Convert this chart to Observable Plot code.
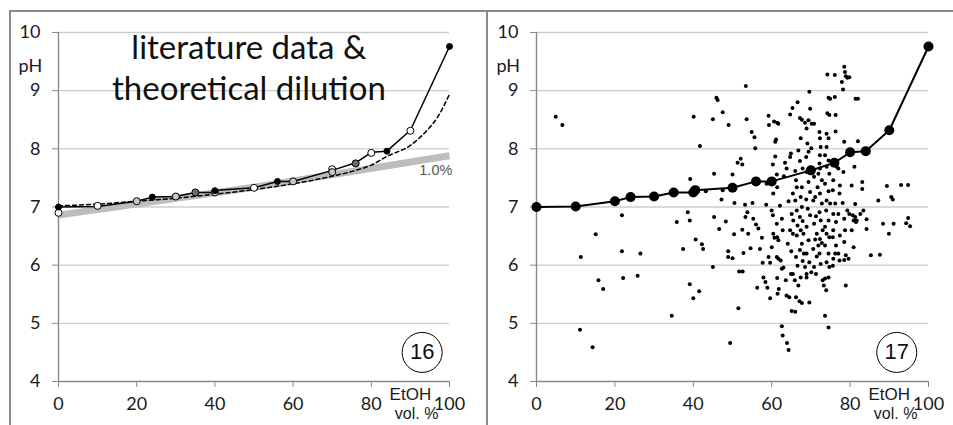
<!DOCTYPE html>
<html><head><meta charset="utf-8">
<script src="https://cdn.jsdelivr.net/npm/d3@7"></script>
<script src="https://cdn.jsdelivr.net/npm/@observablehq/plot@0.6"></script>
<style>
body{margin:0;background:#fff;}
#wrap{position:relative;width:953px;height:425px;overflow:hidden;background:#fff;}
.panel{position:absolute;top:0;}
.bd{position:absolute;background:#8c8c8c;}
</style></head><body>
<div id="wrap">
  <div class="panel" id="p16" style="left:0px"></div>
  <div class="panel" id="p17" style="left:478px"></div>
  <div class="bd" style="left:9px;top:10px;width:944px;height:1.5px"></div>
  <div class="bd" style="left:9px;top:10px;width:1.5px;height:415px"></div>
  <div class="bd" style="left:486px;top:10px;width:1.5px;height:415px"></div>
</div>
<script>
// ---- data ----
const ticksX = [0, 20, 40, 60, 80, 100];
const ticksY = [4, 5, 6, 7, 8, 9, 10];
const gridY = [5, 6, 7, 8, 9, 10];

// averaged literature curve (solid line)
const lineEtOH = [0, 10, 20, 24, 30, 35, 40, 40.5, 50, 56, 60, 70, 76, 80, 84, 90, 100];
const linePH   = [7.0, 7.01, 7.1, 7.17, 7.18, 7.25, 7.25, 7.29, 7.33, 7.44, 7.44, 7.63, 7.76, 7.94, 7.96, 8.32, 9.76];

// literature data points, panel 16
const litEtOH   = [0, 0, 10, 20, 24, 30, 35, 40, 40, 50, 56, 60, 70, 70, 76, 80, 84, 90, 100];
const litPH     = [7.0, 6.9, 7.02, 7.1, 7.17, 7.18, 7.25, 7.28, 7.25, 7.33, 7.44, 7.44, 7.65, 7.6, 7.75, 7.93, 7.96, 8.31, 9.76];
const litSource = ["A", "B", "B", "C", "A", "C", "D", "A", "C", "B", "A", "C", "B", "C", "D", "B", "A", "B", "A"];
const sourceNames = ["A", "B", "C", "D"];

// theoretical dilution (dashed)
const theoryEtOH = [0, 10, 20, 30, 40, 50, 60, 70, 76, 80, 84, 90, 94, 97, 100];
const theoryPH   = [7.02, 7.05, 7.1, 7.15, 7.22, 7.3, 7.4, 7.53, 7.63, 7.72, 7.87, 8.06, 8.3, 8.55, 8.94];

// 1.0% dilution band
const bandEtOH = [0, 50, 100];
const bandPH   = [6.86, 7.34, 7.88];

// scatter of individual measurements, panel 17: [EtOH vol %, pH]
const scatterPoints = [
[4.9,8.55],[6.6,8.41],[11.3,6.14],[11.1,4.89],[14.3,4.59],[15.1,6.53],[15.8,5.74],[17.0,5.59],[21.8,6.86],[21.8,6.24],
[22.1,5.78],[25.8,5.82],[26.5,6.20],[34.5,5.13],[35.8,6.74],[37.4,6.28],[38.6,6.91],[39.1,6.77],[39.1,5.67],[40.0,5.43],
[41.5,5.55],[39.2,7.48],[40.1,8.55],[41.7,8.05],[40.6,6.44],[42.2,6.36],[42.5,6.28],[43.2,7.27],[45.0,5.97],[45.0,8.51],
[45.3,7.57],[45.3,6.83],[45.9,8.88],[46.2,8.84],[47.5,8.63],[46.6,6.62],[47.2,7.13],[47.5,7.29],[48.3,6.75],[49.0,8.41],
[48.9,6.24],[48.9,6.14],[49.4,4.66],[50.0,7.56],[50.0,6.12],[50.4,6.53],[50.5,7.07],[51.3,7.76],[52.1,7.83],[52.5,7.73],
[51.7,5.89],[52.6,5.89],[51.5,5.26],[52.5,6.61],[52.8,6.21],[53.4,9.08],[53.6,8.51],[53.2,7.04],[53.3,6.83],[53.8,6.91],
[54.0,6.54],[54.6,6.29],[54.9,8.29],[55.6,8.20],[55.8,8.01],[55.1,7.07],[55.3,6.80],[56.0,6.70],[56.6,6.63],[56.3,5.61],
[57.0,6.28],[57.5,6.47],[57.7,6.04],[57.9,5.79],[58.4,5.71],[58.6,7.04],[58.9,5.61],[59.6,5.43],[58.7,7.40],[59.2,8.57],
[59.3,8.41],[60.0,6.31],[59.6,6.04],[59.2,6.14],[60.6,8.47],[60.4,7.23],[60.0,6.94],[60.3,6.86],[60.4,6.54],[60.7,6.47],
[60.9,8.12],[61.1,8.16],[61.4,8.45],[61.7,8.43],[60.3,7.73],[60.9,7.87],[61.3,7.56],[61.4,7.34],[61.3,6.71],[61.4,6.48],
[61.7,6.43],[61.3,6.14],[61.7,6.11],[62.3,6.08],[61.4,5.78],[61.8,5.59],[61.5,5.51],[62.6,4.95],[62.8,4.79],[62.1,7.02],
[62.6,6.80],[62.8,6.60],[62.6,5.94],[63.0,5.96],[63.1,7.53],[63.4,7.76],[63.8,7.66],[63.6,5.74],[63.8,5.48],[64.1,6.37],
[64.3,7.10],[63.9,4.66],[64.3,4.54],[64.5,5.45],[64.7,8.59],[64.9,7.92],[64.7,7.86],[65.3,8.70],[65.4,7.23],[65.1,6.88],
[65.5,6.77],[64.7,6.60],[65.4,6.54],[65.0,6.24],[64.9,5.85],[65.4,5.85],[65.1,5.21],[66.0,5.20],[66.2,5.45],[65.9,5.74],
[66.6,8.80],[66.0,7.62],[66.2,7.46],[66.4,7.34],[66.0,7.11],[66.4,6.94],[66.6,6.68],[66.4,6.51],[66.2,6.14],[66.6,5.99],
[66.8,5.65],[67.1,5.38],[67.7,5.35],[67.2,8.53],[67.7,8.50],[67.4,8.18],[66.8,7.97],[67.2,7.79],[67.9,7.66],[67.7,7.34],
[67.4,7.17],[67.7,7.00],[67.2,6.83],[67.9,6.76],[67.4,6.60],[68.1,6.54],[67.7,6.37],[67.2,6.26],[68.2,6.20],[67.9,6.07],
[68.5,5.97],[67.4,5.79],[68.5,8.45],[68.9,8.35],[69.6,8.98],[69.8,8.69],[69.4,8.49],[70.2,8.43],[70.8,8.43],[69.1,8.09],
[68.8,7.86],[69.4,7.95],[70.1,8.01],[68.9,7.60],[69.4,7.43],[69.8,7.26],[68.8,7.13],[69.2,6.97],[69.8,6.86],[68.9,6.66],
[69.4,6.43],[68.9,6.20],[69.6,6.05],[70.1,5.88],[68.9,5.85],[69.6,5.36],[68.9,5.79],[70.8,7.52],[71.1,7.17],[70.6,7.11],
[71.3,6.84],[70.8,6.71],[71.5,6.54],[71.1,6.44],[70.6,6.28],[71.5,6.15],[70.8,5.97],[71.3,5.85],[71.9,7.57],[71.7,7.34],
[72.2,8.29],[72.3,8.18],[72.5,8.03],[72.3,7.89],[72.2,7.75],[72.3,7.66],[72.8,7.46],[72.3,7.23],[72.8,7.06],[72.2,6.91],
[72.5,6.77],[73.0,6.60],[72.3,6.45],[71.9,6.34],[72.8,6.38],[72.2,6.20],[72.5,6.02],[73.0,5.74],[73.6,5.77],[73.3,5.65],
[73.6,5.13],[73.9,5.57],[74.2,9.28],[74.5,8.88],[74.9,8.86],[74.2,8.61],[74.7,8.58],[74.0,8.26],[74.5,8.18],[74.0,8.03],
[73.6,7.89],[74.5,7.80],[74.0,7.69],[74.7,7.57],[73.6,7.40],[74.5,7.27],[74.0,7.11],[74.9,7.06],[73.9,6.94],[74.5,6.77],
[73.6,6.66],[74.0,6.54],[74.7,6.48],[73.6,6.34],[74.5,6.20],[74.0,6.05],[74.7,5.97],[74.5,5.79],[74.5,4.93],[76.1,9.27],
[76.1,8.89],[76.3,8.58],[76.3,8.30],[76.6,7.69],[75.7,7.46],[75.6,7.29],[76.2,7.06],[75.7,6.88],[76.4,6.74],[75.7,6.60],
[75.6,6.48],[76.4,6.34],[76.2,6.20],[75.7,6.11],[75.6,5.99],[77.0,7.66],[77.4,7.37],[77.3,7.23],[77.0,6.88],[77.4,6.51],
[77.0,6.20],[77.3,6.08],[77.9,9.15],[78.2,9.02],[78.5,9.41],[78.7,9.32],[78.9,9.25],[79.3,9.22],[79.8,9.23],[78.5,8.12],
[78.3,7.60],[78.1,7.07],[78.5,6.80],[78.7,6.60],[78.5,6.40],[78.9,6.17],[78.5,6.09],[78.9,5.65],[79.6,6.11],[79.3,6.94],
[79.8,6.88],[81.4,8.86],[82.0,8.86],[80.4,7.37],[80.7,6.86],[80.9,6.77],[81.3,6.83],[81.5,6.74],[80.4,6.60],[80.9,6.31],
[81.3,7.05],[81.7,6.77],[81.1,7.69],[82.0,8.13],[82.6,6.88],[83.1,7.43],[83.1,7.31],[83.4,6.94],[84.2,6.79],[84.2,6.62],
[85.3,6.17],[87.6,6.18],[87.2,7.11],[88.4,6.71],[89.9,6.54],[90.5,7.17],[90.9,7.13],[91.1,6.71],[93.0,7.38],[94.8,7.38],
[94.3,6.72],[94.8,6.81],[95.3,6.67],[89.4,7.36]
];

// ---- drawing ----
const tickFont = "Lato, 'Open Sans', sans-serif";
const arial = "'Liberation Sans', Arial, sans-serif";
function frame(width, marginRight, marks) {
  return Plot.plot({
    width, height: 425,
    marginLeft: 58, marginRight, marginTop: 32, marginBottom: 44,
    x: {domain: [0, 100]},
    y: {domain: [4, 10]},
    color: {domain: sourceNames, range: ["#000000", "#ffffff", "#c8c8c8", "#6b6b6b"]},
    style: {background: "transparent", overflow: "visible", fontFamily: tickFont, color: "#1a1a1a"},
    marks: [
      Plot.ruleY(gridY, {x1: 0, x2: 100, stroke: "#cdcdcd", strokeWidth: 1.3}),
      Plot.ruleX([0], {y1: 4, y2: 10, stroke: "#8a8a8a", strokeWidth: 1.4}),
      Plot.ruleY([4], {x1: 0, x2: 100, stroke: "#8a8a8a", strokeWidth: 1.4}),
      Plot.axisY(ticksY, {tickSize: 6, tickPadding: 12, tickFormat: d => String(d), stroke: "#8a8a8a", fill: "#1a1a1a", fontSize: 18, label: null}),
      Plot.axisX(ticksX, {tickSize: 6, tickPadding: 10, tickFormat: d => String(d), stroke: "#8a8a8a", fill: "#1a1a1a", fontSize: 18, label: null}),
      Plot.text(["pH"], {x: -7.2, y: 9.32, fontSize: 18, fill: "#1a1a1a", lineAnchor: "bottom"}),
      Plot.text(["EtOH"], {x: 90, y: 3.69, fontSize: 17, fontFamily: arial, fill: "#1a1a1a", lineAnchor: "bottom"}),
      Plot.text(["vol. %"], {x: 91.6, y: 3.36, fontSize: 16, fontFamily: arial, fill: "#1a1a1a", lineAnchor: "bottom"}),
      ...marks
    ]
  });
}

const lineData = lineEtOH.map((x, i) => ({x, y: linePH[i]}));
const litData = litEtOH.map((x, i) => ({x, y: litPH[i], s: litSource[i]}));
const theoryData = theoryEtOH.map((x, i) => ({x, y: theoryPH[i]}));
const bandData = bandEtOH.map((x, i) => ({x, y: bandPH[i]}));
const scatterData = scatterPoints.map(([x, y]) => ({x, y}));

const left = frame(480, 31, [
  Plot.line(bandData, {x: "x", y: "y", stroke: "#bdbdbd", strokeWidth: 7, strokeLinecap: "butt"}),
  Plot.line(theoryData, {x: "x", y: "y", stroke: "#000", strokeWidth: 1.5, strokeDasharray: "4,3", curve: "monotone-x"}),
  Plot.line(lineData, {x: "x", y: "y", stroke: "#000", strokeWidth: 1.5}),
  Plot.dot(litData, {x: "x", y: "y", fill: "s", stroke: "#000", strokeWidth: 1, r: d => d.s === "A" ? 4 : 5.5}),
  Plot.text(["1.0%"], {x: 96.5, y: 7.63, fontSize: 14.5, fontFamily: arial, fill: "#555"}),
  Plot.text(["literature data &"], {x: 48.7, y: 9.54, fontSize: 33, fill: "#111", lineAnchor: "bottom"}),
  Plot.text(["theoretical dilution"], {x: 48.7, y: 8.84, fontSize: 33, fill: "#111", lineAnchor: "bottom"}),
  Plot.dot([0], {x: 93, y: 4.5, r: 20, stroke: "#000", strokeWidth: 1, fill: "none"}),
  Plot.text(["16"], {x: 93, y: 4.5, fontSize: 22, fontFamily: arial, fill: "#111"})
]);

const right = frame(475, 25, [
  Plot.dot(scatterData, {x: "x", y: "y", r: 2, fill: "#000", stroke: "none"}),
  Plot.line(lineData, {x: "x", y: "y", stroke: "#000", strokeWidth: 2}),
  Plot.dot(lineData, {x: "x", y: "y", r: 5, fill: "#000"}),
  Plot.dot([0], {x: 91.9, y: 4.5, r: 20, stroke: "#000", strokeWidth: 1, fill: "none"}),
  Plot.text(["17"], {x: 91.9, y: 4.5, fontSize: 22, fontFamily: arial, fill: "#111"})
]);

document.getElementById("p16").appendChild(left);
document.getElementById("p17").appendChild(right);
</script>
</body></html>
